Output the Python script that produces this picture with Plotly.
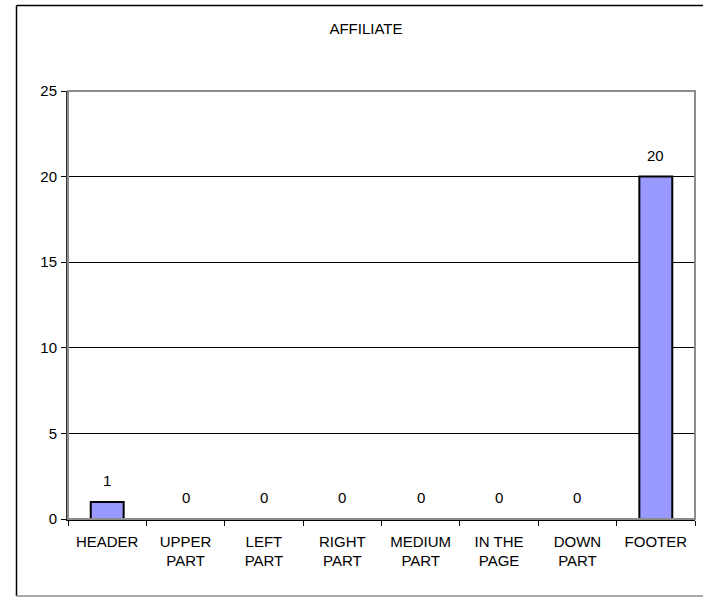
import plotly.graph_objects as go

# Where the affiliate block was found on the page
categories = ["HEADER", "UPPER<br>PART", "LEFT<br>PART", "RIGHT<br>PART",
              "MEDIUM<br>PART", "IN THE<br>PAGE", "DOWN<br>PART", "FOOTER"]
counts = [1, 0, 0, 0, 0, 0, 0, 20]
y_ticks = [0, 5, 10, 15, 20, 25]

FONT = "Liberation Sans, Arial, sans-serif"
W, H = 703, 597
ML, MR, MT, MB = 68, 8, 91, 78
plot_w = W - ML - MR
plot_h = H - MT - MB


def px_to_paper_x(px):
    return (px - ML) / plot_w


def px_to_paper_y(py):
    return (H - MB - py) / plot_h


fig = go.Figure()
fig.add_trace(go.Bar(
    x=categories,
    y=counts,
    marker=dict(color="#9999FF", line=dict(color="black", width=2)),
    hoverinfo="x+y",
))

# value labels above each bar
for cat, val in zip(categories, counts):
    fig.add_annotation(
        x=cat, y=val, text=str(val), showarrow=False,
        xanchor="center", yanchor="bottom", yshift=11,
        font=dict(family=FONT, size=15, color="black"),
    )

shapes = [
    # plot-area frame (top/right in grey)
    dict(type="rect", xref="paper", yref="paper", x0=0, x1=1, y0=0, y1=1,
         line=dict(color="#8c8c8c", width=2), layer="above"),
    # outer chart frame
    dict(type="line", xref="paper", yref="paper",
         x0=px_to_paper_x(16.5), x1=px_to_paper_x(16.5),
         y0=px_to_paper_y(5.5), y1=px_to_paper_y(596),
         line=dict(color="black", width=1.5)),
    dict(type="line", xref="paper", yref="paper",
         x0=px_to_paper_x(16.5), x1=px_to_paper_x(720),
         y0=px_to_paper_y(5.5), y1=px_to_paper_y(5.5),
         line=dict(color="black", width=1.5)),
    dict(type="line", xref="paper", yref="paper",
         x0=px_to_paper_x(16.5), x1=px_to_paper_x(720),
         y0=px_to_paper_y(596), y1=px_to_paper_y(596),
         line=dict(color="#8c8c8c", width=1.5)),
]

fig.update_layout(
    width=W, height=H,
    margin=dict(l=ML, r=MR, t=MT, b=MB),
    paper_bgcolor="white", plot_bgcolor="white",
    font=dict(family=FONT, size=15, color="black"),
    title=dict(text="AFFILIATE", x=366 / W, xref="container", xanchor="center",
               y=1 - 29 / H, yref="container", yanchor="middle",
               font=dict(family=FONT, size=15, color="black")),
    bargap=0.58,
    showlegend=False,
    shapes=shapes,
)

fig.update_xaxes(
    type="category",
    showline=True, linecolor="black", linewidth=1.5,
    ticks="outside", tickson="boundaries", ticklen=5, tickcolor="black",
    tickwidth=1, showgrid=False, ticklabelstandoff=8,
    tickfont=dict(family=FONT, size=15, color="black"),
)
fig.update_yaxes(
    range=[0, 25], tickvals=y_ticks,
    showline=True, linecolor="#333333", linewidth=2,
    ticks="outside", ticklen=5, tickcolor="black", tickwidth=1,
    showgrid=True, gridcolor="black", gridwidth=1,
    zeroline=False, ticklabelstandoff=1,
    tickfont=dict(family=FONT, size=15, color="black"),
)

fig.write_html("out.html")
